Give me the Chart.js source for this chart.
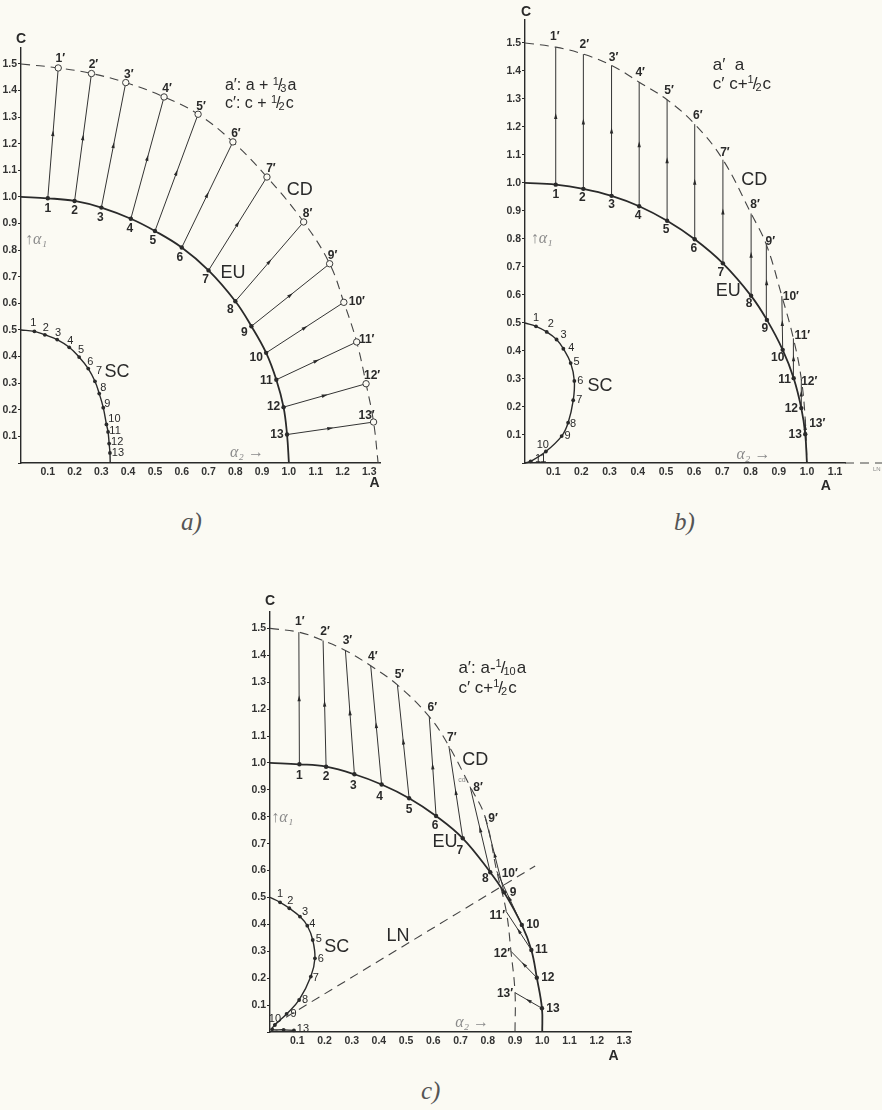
<!DOCTYPE html>
<html lang="en">
<head>
<meta charset="utf-8">
<title>EU / CD / SC</title>
<script src="https://cdn.jsdelivr.net/npm/chart.js@4.4.1/dist/chart.umd.min.js"></script>
<style>
  html, body { margin: 0; padding: 0; background: #fbfaf3; }
  #page { position: relative; width: 882px; height: 1110px; overflow: hidden; background: #fbfaf3; }
  #page canvas { position: absolute; }
  .tag { position: absolute; font: italic 25px "Liberation Serif", "DejaVu Serif", serif; color: #555; }
</style>
</head>
<body>
<div id="page">
  <canvas id="panelA" width="441" height="500" style="left:0;top:0"></canvas>
  <canvas id="panelB" width="441" height="500" style="left:441px;top:0"></canvas>
  <canvas id="panelC" width="441" height="480" style="left:220px;top:590px"></canvas>
  <div class="tag" style="left:181px;top:508px">a)</div>
  <div class="tag" style="left:674px;top:508px">b)</div>
  <div class="tag" style="left:421px;top:1077px">c)</div>
</div>
<script>
// a)  a' = a + a/3 ,  c' = c + c/2
const aEuX = [0.10, 0.20, 0.30, 0.41, 0.50, 0.60, 0.70, 0.80, 0.86, 0.915, 0.953, 0.98, 0.993];
const aEuY = [0.995, 0.985, 0.96, 0.918, 0.872, 0.81, 0.724, 0.608, 0.514, 0.414, 0.313, 0.21, 0.107];
const aCdX = [0.139, 0.263, 0.391, 0.534, 0.661, 0.791, 0.918, 1.055, 1.152, 1.205, 1.253, 1.288, 1.316];
const aCdY = [1.485, 1.464, 1.43, 1.376, 1.311, 1.207, 1.075, 0.906, 0.749, 0.604, 0.455, 0.298, 0.154];
const aScX = [0.05, 0.089, 0.135, 0.18, 0.217, 0.251, 0.276, 0.292, 0.307, 0.319, 0.325, 0.329, 0.332];
const aScY = [0.495, 0.482, 0.464, 0.435, 0.398, 0.355, 0.307, 0.261, 0.208, 0.145, 0.117, 0.073, 0.038];
const aEuEnds = [[0, 1.0], [1.0, 0]];
const aCdEnds = [[0, 1.5], [1.333, 0]];
const aScEnds = [[0, 0.5], [0.333, 0]];

// b)  a' = a ,  c' = c + c/2
const bEuX = [0.109, 0.207, 0.307, 0.405, 0.504, 0.602, 0.702, 0.802, 0.858, 0.914, 0.953, 0.98, 0.994];
const bEuY = [0.994, 0.979, 0.954, 0.917, 0.865, 0.799, 0.713, 0.597, 0.511, 0.404, 0.303, 0.196, 0.103];
const bCdX = [0.109, 0.207, 0.307, 0.405, 0.504, 0.602, 0.702, 0.802, 0.856, 0.911, 0.952, 0.98, 0.994];
const bCdY = [1.485, 1.46, 1.42, 1.36, 1.297, 1.21, 1.083, 0.891, 0.78, 0.596, 0.445, 0.30, 0.155];
const bScX = [0.039, 0.077, 0.112, 0.136, 0.162, 0.175, 0.171, 0.153, 0.13, 0.074, 0.02];
const bScY = [0.488, 0.468, 0.441, 0.408, 0.357, 0.293, 0.224, 0.144, 0.096, 0.041, 0.006];
const bEuEnds = [[0, 1.0], [1.0, 0]];
const bCdEnds = [[0, 1.5], [1.0, 0]];
const bScEnds = [[0, 0.5], [0, 0]];
const bLnX = [1.135, 1.27];
const bLnY = [0, 0];

// c)  a' = a - a/10 ,  c' = c + c/2
const cEuX = [0.108, 0.206, 0.31, 0.41, 0.511, 0.61, 0.708, 0.809, 0.86, 0.925, 0.96, 0.98, 0.999];
const cEuY = [0.995, 0.986, 0.958, 0.92, 0.869, 0.803, 0.72, 0.594, 0.519, 0.398, 0.305, 0.202, 0.088];
const cCdX = [0.106, 0.195, 0.277, 0.37, 0.468, 0.585, 0.657, 0.735, 0.79, 0.833, 0.868, 0.885, 0.9];
const cCdY = [1.486, 1.455, 1.418, 1.361, 1.29, 1.172, 1.063, 0.912, 0.80, 0.597, 0.447, 0.30, 0.146];
const cScX = [0.037, 0.071, 0.11, 0.137, 0.157, 0.165, 0.15, 0.107, 0.061, 0.018, 0.008, 0.05, 0.088];
const cScY = [0.482, 0.46, 0.429, 0.395, 0.342, 0.274, 0.206, 0.119, 0.067, 0.026, 0.01, 0.008, 0.006];
const cEuEnds = [[0, 1.0], [1.0, 0]];
const cCdEnds = [[0, 1.5], [0.9, 0]];
const cScEnds = [[0, 0.5], null];
const cLnX = [0.012, 0.974];
const cLnY = [0.026, 0.617];

// label offsets in px (centre of the number relative to its point)
const aEuTag = [[0,10],[0,10],[-1,10],[-1,10],[-2,10],[-2,10],[-3,9],[-5,8],[-7,6],[-10,5],[-10,1],[-10,0],[-10,0]];
const aCdTag = [[2,-9],[2,-9],[3,-8],[3,-8],[3,-8],[3,-8],[4,-8],[4,-8],[3,-8],[13,-1],[10,-2],[6,-8],[-7,-6]];
const aScTag = [[-1,-8],[1,-7],[1,-7],[1,-6],[2,-7],[2,-7],[4,-10],[4,-6],[4,-4],[8,-5],[7,-1],[8,-2],[8,0]];
const bEuTag = [[0,10],[-1,9],[0,9],[-1,9],[-1,9],[-1,9],[-2,9],[-2,8],[-2,9],[-5,8],[-9,2],[-10,1],[-10,1]];
const bCdTag = [[-1,-10],[1,-9],[2,-8],[1,-9],[2,-9],[3,-8],[2,-7],[4,-9],[4,-3],[9,1],[9,-3],[8,3],[12,4]];
const bScTag = [[0,-8],[4,-8],[7,-5],[8,-1],[6,-1],[6,0],[6,0],[5,1],[6,0],[-3,-7],[10,-2]];
const cEuTag = [[0,11],[0,10],[-1,11],[-2,12],[0,11],[-1,10],[-3,12],[-5,7],[9,0],[11,0],[10,0],[11,0],[11,0]];
const cCdTag = [[1,-10],[2,-9],[2,-10],[2,-9],[2,-10],[3,-9],[3,-8],[8,1],[8,2],[13,2],[-9,4],[-9,2],[-10,1]];
const cScTag = [[0,-8],[1,-7],[5,-5],[5,-2],[6,-1],[6,1],[5,1],[6,0],[7,0],[0,-6],null,null,[9,-1]];

const BG = '#fbfaf3';
const INK = '#2a2a2a';
const FONT = '"Liberation Sans", Arial, sans-serif';
const HAND = '"Liberation Serif", "DejaVu Serif", serif';

const panelNotes = {};

function pts(xs, ys) {
  return xs.map((x, i) => ({ x: x, y: ys[i] }));
}

function outline(ends, xs, ys) {
  const list = pts(xs, ys);
  if (ends[0]) list.unshift({ x: ends[0][0], y: ends[0][1] });
  if (ends[1]) list.push({ x: ends[1][0], y: ends[1][1] });
  return list;
}

function buildSets(p) {
  const sets = [
    { data: pts(p.euX, p.euY), showLine: false, pointRadius: 2.2, pointBackgroundColor: INK, pointBorderWidth: 0 },
    { data: pts(p.cdX, p.cdY), showLine: false, pointRadius: p.cdRing, pointBackgroundColor: BG, pointBorderColor: '#3a3a3a', pointBorderWidth: 1 },
    { data: pts(p.scX, p.scY), showLine: false, pointRadius: 1.9, pointBackgroundColor: INK, pointBorderWidth: 0 },
    { data: outline(p.euEnds, p.euX, p.euY), showLine: true, tension: 0.4, borderColor: INK, borderWidth: 1.8, pointRadius: 0 },
    { data: outline(p.cdEnds, p.cdX, p.cdY), showLine: true, tension: 0.4, borderColor: '#444', borderWidth: 1.1, borderDash: [9, 6], pointRadius: 0 },
    { data: outline(p.scEnds, p.scX, p.scY), showLine: true, tension: 0.4, borderColor: INK, borderWidth: 1.4, pointRadius: 0 }
  ];
  if (p.lnX) {
    sets.push({ data: pts(p.lnX, p.lnY), showLine: true, borderColor: '#444', borderWidth: 1.1, borderDash: [9, 6], pointRadius: 0 });
  }
  // EU -> CD displacement of every numbered point
  p.euX.forEach((x, i) => {
    sets.push({
      data: [{ x: x, y: p.euY[i] }, { x: p.cdX[i], y: p.cdY[i] }],
      showLine: true, borderColor: '#333', borderWidth: 1, pointRadius: 0, arrow: true
    });
  });
  sets.forEach(s => { s.clip = false; });
  return sets;
}

function tagPoints(out, xs, ys, offs, mark, font) {
  xs.forEach((x, i) => {
    if (!offs[i]) return;
    out.push({ x: x, y: ys[i], dx: offs[i][0], dy: offs[i][1], text: (i + 1) + mark, font: font });
  });
}

function drawRuns(ctx, x, y, runs, size) {
  let cx = x;
  ctx.textAlign = 'left';
  runs.forEach(r => {
    if (typeof r === 'string') {
      ctx.font = size + 'px ' + FONT;
      ctx.fillText(r, cx, y);
      cx += ctx.measureText(r).width;
    } else {
      const s = Math.round(size * 0.66);
      ctx.font = s + 'px ' + FONT;
      ctx.fillText(r.n, cx, y - size * 0.26);
      cx += ctx.measureText(r.n).width - 1;
      ctx.font = size + 'px ' + FONT;
      ctx.fillText('/', cx, y);
      cx += ctx.measureText('/').width - 2;
      ctx.font = s + 'px ' + FONT;
      ctx.fillText(r.d, cx, y + size * 0.2);
      cx += ctx.measureText(r.d).width + 1;
    }
  });
}

const inkPlugin = {
  id: 'ink',
  afterDatasetsDraw(chart) {
    const ctx = chart.ctx;
    chart.data.datasets.forEach((ds, i) => {
      if (!ds.arrow) return;
      const el = chart.getDatasetMeta(i).data;
      const a = el[0], b = el[1];
      const ang = Math.atan2(b.y - a.y, b.x - a.x);
      ctx.save();
      ctx.translate((a.x + b.x) / 2, (a.y + b.y) / 2);
      ctx.rotate(ang);
      ctx.beginPath();
      ctx.moveTo(3, 0);
      ctx.lineTo(-3, -1.7);
      ctx.lineTo(-3, 1.7);
      ctx.closePath();
      ctx.fillStyle = INK;
      ctx.fill();
      ctx.restore();
    });
  },
  afterDraw(chart) {
    const ctx = chart.ctx;
    const notes = panelNotes[chart.canvas.id] || [];
    ctx.save();
    ctx.textBaseline = 'middle';
    notes.forEach(n => {
      const px = chart.scales.x.getPixelForValue(n.x) + (n.dx || 0);
      const py = chart.scales.y.getPixelForValue(n.y) + (n.dy || 0);
      ctx.fillStyle = n.color || INK;
      if (n.runs) {
        drawRuns(ctx, px, py, n.runs, n.size);
      } else {
        ctx.font = n.font;
        ctx.textAlign = n.align || 'center';
        ctx.fillText(n.text, px, py);
      }
    });
    ctx.restore();
  }
};

function makePanel(id, p) {
  const tickFont = { family: FONT, size: 10.5, weight: 'bold' };
  const fmt = v => (v < 0.05 ? '' : v.toFixed(1));
  new Chart(document.getElementById(id), {
    type: 'scatter',
    data: { datasets: buildSets(p) },
    options: {
      responsive: false,
      animation: false,
      events: [],
      layout: { padding: p.pad },
      plugins: { legend: { display: false }, tooltip: { enabled: false } },
      scales: {
        x: {
          type: 'linear', min: 0, max: p.xMax,
          afterFit: s => { s.height = 30; },
          grid: { display: false, drawTicks: false, tickLength: 0 },
          border: { display: true, color: INK, width: 1.4 },
          ticks: { stepSize: 0.1, includeBounds: false, autoSkip: false, maxRotation: 0, padding: 3, color: '#333', font: tickFont, callback: fmt }
        },
        y: {
          type: 'linear', min: 0, max: p.yMax,
          afterFit: s => { s.width = 21; },
          grid: { display: true, drawOnChartArea: false, drawTicks: true, tickLength: 3, color: INK, lineWidth: 1 },
          border: { display: true, color: INK, width: 1.4 },
          ticks: { stepSize: 0.1, includeBounds: false, autoSkip: false, padding: 1, color: '#333', font: tickFont, callback: fmt }
        }
      }
    },
    plugins: [inkPlugin]
  });
}

// ---- text for each panel
const numFont = 'bold 12px ' + FONT;
const scFont = '11px ' + FONT;
const nameFont = '18px ' + FONT;
const axisFont = 'bold 14px ' + FONT;
const greekFont = 'italic 16px ' + HAND;
const grey = '#8a8a8a';

const notesA = [];
tagPoints(notesA, aEuX, aEuY, aEuTag, '', numFont);
tagPoints(notesA, aCdX, aCdY, aCdTag, '\u2032', numFont);
tagPoints(notesA, aScX, aScY, aScTag, '', scFont);
notesA.push(
  { x: 0, y: 1.594, text: 'C', font: axisFont },
  { x: 1.32, y: -0.074, text: 'A', font: axisFont },
  { x: 0.358, y: 0.342, text: 'SC', font: nameFont },
  { x: 0.791, y: 0.714, text: 'EU', font: nameFont },
  { x: 1.04, y: 1.026, text: 'CD', font: nameFont },
  { x: 0.761, y: 1.417, runs: ['a\u2032: a + ', { n: '1', d: '3' }, 'a'], size: 16 },
  { x: 0.761, y: 1.35, runs: ['c\u2032: c + ', { n: '1', d: '2' }, 'c'], size: 16 },
  { x: 0.015, y: 0.84, text: '\u2191\u03b1\u2081', font: greekFont, color: grey, align: 'left' },
  { x: 0.78, y: 0.04, text: '\u03b1\u2082 \u2192', font: greekFont, color: grey, align: 'left' }
);
panelNotes.panelA = notesA;

const notesB = [];
tagPoints(notesB, bEuX, bEuY, bEuTag, '', numFont);
tagPoints(notesB, bCdX, bCdY, bCdTag, '\u2032', numFont);
tagPoints(notesB, bScX, bScY, bScTag, '', scFont);
notesB.push(
  { x: 0.004, y: 1.609, text: 'C', font: axisFont },
  { x: 1.067, y: -0.082, text: 'A', font: axisFont },
  { x: 0.266, y: 0.274, text: 'SC', font: nameFont },
  { x: 0.721, y: 0.614, text: 'EU', font: nameFont },
  { x: 0.813, y: 1.012, text: 'CD', font: nameFont },
  { x: 1.248, y: -0.022, text: 'LN', font: '6px ' + FONT, color: grey },
  { x: 0.666, y: 1.42, runs: ['a\u2032  a'], size: 17 },
  { x: 0.666, y: 1.352, runs: ['c\u2032 c+', { n: '1', d: '2' }, 'c'], size: 17 },
  { x: 0.02, y: 0.8, text: '\u2191\u03b1\u2081', font: greekFont, color: grey, align: 'left' },
  { x: 0.75, y: 0.03, text: '\u03b1\u2082 \u2192', font: greekFont, color: grey, align: 'left' }
);
panelNotes.panelB = notesB;

const notesC = [];
tagPoints(notesC, cEuX, cEuY, cEuTag, '', numFont);
tagPoints(notesC, cCdX, cCdY, cCdTag, '\u2032', numFont);
tagPoints(notesC, cScX, cScY, cScTag, '', scFont);
notesC.push(
  { x: 0, y: 1.6, text: 'C', font: axisFont },
  { x: 1.262, y: -0.089, text: 'A', font: axisFont },
  { x: 0.245, y: 0.317, text: 'SC', font: nameFont },
  { x: 0.643, y: 0.706, text: 'EU', font: nameFont },
  { x: 0.754, y: 1.011, text: 'CD', font: nameFont },
  { x: 0.47, y: 0.358, text: 'LN', font: nameFont },
  { x: 0.705, y: 0.937, text: 'cd', font: '7px ' + FONT, color: grey },
  { x: 0.692, y: 1.352, runs: ['a\u2032: a-', { n: '1', d: '10' }, 'a'], size: 17 },
  { x: 0.692, y: 1.278, runs: ['c\u2032 c+', { n: '1', d: '2' }, 'c'], size: 17 },
  { x: 0.005, y: 0.795, text: '\u2191\u03b1\u2081', font: greekFont, color: grey, align: 'left' },
  { x: 0.68, y: 0.033, text: '\u03b1\u2082 \u2192', font: greekFont, color: grey, align: 'left' }
);
panelNotes.panelC = notesC;

makePanel('panelA', {
  euX: aEuX, euY: aEuY, cdX: aCdX, cdY: aCdY, scX: aScX, scY: aScY,
  euEnds: aEuEnds, cdEnds: aCdEnds, scEnds: aScEnds, cdRing: 3.2,
  xMax: 1.34, yMax: 1.56,
  pad: { left: 0, top: 48, right: 61, bottom: 7 }
});
makePanel('panelB', {
  euX: bEuX, euY: bEuY, cdX: bCdX, cdY: bCdY, scX: bScX, scY: bScY,
  euEnds: bEuEnds, cdEnds: bCdEnds, scEnds: bScEnds, cdRing: 0,
  lnX: bLnX, lnY: bLnY,
  xMax: 1.135, yMax: 1.582,
  pad: { left: 63, top: 20, right: 37, bottom: 7 }
});
makePanel('panelC', {
  euX: cEuX, euY: cEuY, cdX: cCdX, cdY: cCdY, scX: cScX, scY: cScY,
  euEnds: cEuEnds, cdEnds: cCdEnds, scEnds: cScEnds, cdRing: 0,
  lnX: cLnX, lnY: cLnY,
  xMax: 1.326, yMax: 1.561,
  pad: { left: 29, top: 22, right: 30, bottom: 8 }
});
</script>
</body>
</html>
